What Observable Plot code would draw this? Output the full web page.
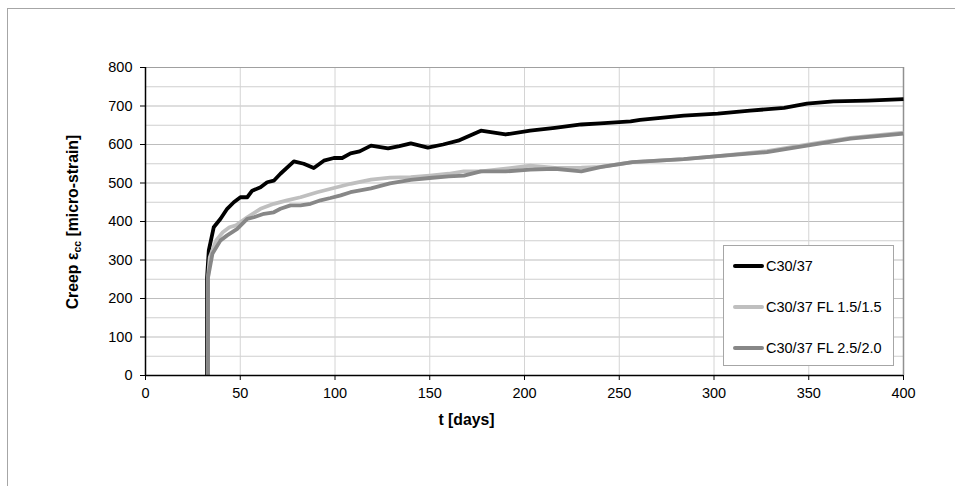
<!DOCTYPE html>
<html>
<head>
<meta charset="utf-8">
<script src="https://cdn.jsdelivr.net/npm/d3@7"></script>
<script src="https://cdn.jsdelivr.net/npm/@observablehq/plot@0.6"></script>
<style>
  body { margin: 0; background: #fff; font-family: "Liberation Sans", Arial, sans-serif; }
  #wrap { position: relative; width: 955px; height: 486px; overflow: hidden; }
  #frame { position: absolute; left: 7px; top: 8px; right: -2px; bottom: -2px;
           border-top: 1.5px solid #a6a6a6; border-left: 1.5px solid #a6a6a6; pointer-events: none; }
  #chart { position: absolute; left: 0; top: 0; }
  #ytitle { position: absolute; left: 73px; top: 222px; transform: translate(-50%, -50%) rotate(-90deg);
            white-space: nowrap; font-weight: bold; font-size: 15.8px; color: #000; }
  #ytitle sub { font-size: 10.5px; vertical-align: -3px; }
  #legend { position: absolute; left: 723px; top: 245px; width: 171px; height: 121px;
            border: 1px solid #a6a6a6; background: #fff; box-sizing: border-box; }
  .item { position: absolute; left: 9px; height: 18px; display: flex; align-items: center;
          font-size: 14.5px; color: #000; white-space: nowrap; }
  .sw { display: inline-block; width: 31px; height: 4px; border-radius: 2px; margin-right: 2px; }
</style>
</head>
<body>
<div id="wrap">
  <div id="chart"></div>
  <div id="frame"></div>
  <div id="ytitle">Creep ε<sub>cc</sub> [micro-strain]</div>
  <div id="legend"></div>
</div>
<script>
// ---- data ----
const seriesNames = ["C30/37", "C30/37 FL 1.5/1.5", "C30/37 FL 2.5/2.0"];
const seriesColors = ["#000000", "#bfbfbf", "#878787"];

const blackT = [32.5, 32.5, 33.4, 36, 39.6, 43.1, 46.6, 50.1, 53.7, 56.3, 60.7, 64.2, 67.7, 71.2, 78.3, 83.5, 88.8, 94.1, 99.4, 103.8, 108.2, 113, 119, 128, 134, 140, 149, 157, 165, 177, 190, 203, 216, 230, 240, 256, 261, 284, 302, 319, 337, 349, 363, 381, 400];
const blackV = [0, 255, 325, 385, 407, 433, 450, 463, 463, 480, 489, 502, 506, 524, 556, 550, 539, 558, 565, 565, 577, 582, 597, 590, 596, 603, 592, 600, 610, 636, 626, 636, 643, 652, 655, 660, 664, 675, 680, 688, 695, 706, 712, 714, 718];

const lightT = [33, 33, 33.9, 37.3, 40.8, 44.3, 47.8, 53.7, 60.7, 67.7, 74.7, 81.8, 90.6, 99.4, 108.2, 119, 129, 140, 150, 160, 168, 177, 190, 203, 216, 230, 240, 257, 284, 302, 328, 349, 372, 400];
const lightV = [0, 255, 307, 351, 372, 385, 390, 411, 433, 446, 455, 463, 476, 487, 498, 509, 514, 515, 519, 524, 530, 530, 537, 545, 539, 540, 542, 554, 562, 570, 583, 600, 617, 631];

const darkT = [33, 33, 35.3, 39.6, 43.1, 48.4, 53.7, 57.2, 62.5, 67.7, 71.2, 76.5, 81.8, 87.1, 92.4, 97.6, 103, 108.2, 119, 129, 140, 150, 160, 168, 177, 190, 203, 216, 230, 240, 257, 284, 302, 328, 349, 372, 400];
const darkV = [0, 255, 316, 351, 364, 381, 407, 411, 420, 424, 433, 442, 442, 446, 455, 461, 468, 476, 486, 499, 508, 513, 517, 519, 530, 530, 535, 537, 530, 541, 554, 562, 570, 580, 597, 615, 628];

const xTicks = [0, 50, 100, 150, 200, 250, 300, 350, 400];
const yTicks = [0, 100, 200, 300, 400, 500, 600, 700, 800];
const yMinor = [50, 150, 250, 350, 450, 550, 650, 750];
const xTitle = "t [days]";

// ---- build ----
const toRows = (ts, vs) => ts.map((t, i) => ({t, v: vs[i]}));
const series = [toRows(blackT, blackV), toRows(lightT, lightV), toRows(darkT, darkV)];

const fontFamily = '"Liberation Sans", Arial, sans-serif';

const chart = Plot.plot({
  width: 955,
  height: 486,
  marginLeft: 145,
  marginRight: 52,
  marginTop: 67,
  marginBottom: 111,
  style: {background: "transparent", fontFamily, fontSize: "14.5px", color: "#000"},
  x: {domain: [0, 400], label: null},
  y: {domain: [0, 800], label: null},
  marks: [
    Plot.gridY(yMinor, {stroke: "#cfcfcf", strokeOpacity: 1, strokeWidth: 1.2}),
    Plot.gridY(yTicks, {stroke: "#bdbdbd", strokeOpacity: 1, strokeWidth: 1.2}),
    Plot.gridX(xTicks, {stroke: "#d4d4d4", strokeOpacity: 1}),
    Plot.ruleY([800], {stroke: "#a0a0a0", strokeWidth: 1}),
    Plot.ruleX([400], {stroke: "#909090", strokeWidth: 1.5}),
    Plot.axisY(yTicks, {tickSize: 5, tickPadding: 8, fontSize: 14.5, label: null, stroke: "#000"}),
    Plot.axisX(xTicks, {tickSize: 5, tickPadding: 7, fontSize: 14.5, label: null, stroke: "#000"}),
    ...series.map((rows, i) => Plot.line(rows, {
      x: "t", y: "v", stroke: seriesColors[i], strokeWidth: 3.8,
      strokeLinejoin: "round", strokeLinecap: "butt"
    })),
    Plot.ruleX([0], {stroke: "#000", strokeWidth: 1.5}),
    Plot.ruleY([0], {stroke: "#000", strokeWidth: 1.5}),
    Plot.text([xTitle], {frameAnchor: "bottom", dx: -58, dy: 49, fontWeight: "bold", fontSize: 15.8, fill: "#000"})
  ]
});
document.getElementById("chart").appendChild(chart);

// legend
const legend = document.getElementById("legend");
const itemTops = [11, 52, 93];
seriesNames.forEach((name, i) => {
  const item = document.createElement("div");
  item.className = "item";
  item.style.top = itemTops[i] + "px";
  const sw = document.createElement("span");
  sw.className = "sw";
  sw.style.background = seriesColors[i];
  item.appendChild(sw);
  item.appendChild(document.createTextNode(name));
  legend.appendChild(item);
});
</script>
</body>
</html>
